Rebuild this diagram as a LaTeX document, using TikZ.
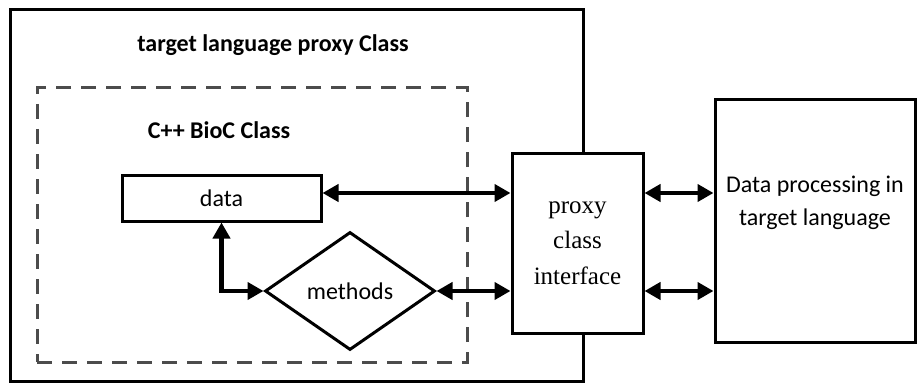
\documentclass[tikz,border=0pt]{standalone}
\usepackage{fontspec}
\setmainfont{Carlito}
\newfontfamily\ifacefont{Liberation Serif}
\usetikzlibrary{shapes.geometric,arrows.meta}

\tikzset{
  box/.style={draw, line width=3pt, inner sep=0pt},
  dashbox/.style={draw=black!70, line width=3pt, dash pattern=on 15pt off 10pt},
  link/.style={line width=4.5pt, {Triangle[length=16pt,width=17pt]}-{Triangle[length=16pt,width=17pt]}},
  lbl/.style={font=\fontsize{24}{33}\selectfont, align=center},
  ttl/.style={font=\fontsize{24}{28}\selectfont\bfseries},
}

\begin{document}
\begin{tikzpicture}[x=1pt,y=-1pt]
\useasboundingbox (0,0) rectangle (920,385);
% outer proxy class
\node[box, minimum width=573pt, minimum height=371pt] (outer) at (296.5,195.5) {};
\node[ttl] (outertitle) at (273,45) {target language proxy Class};
% wrapped C++ class
\node[dashbox, minimum width=430pt, minimum height=274pt] (inner) at (252,225) {};
\node[ttl] (innertitle) at (219,130) {C++ BioC Class};
\node[box, lbl, minimum width=199pt, minimum height=46pt] (data) at (221.5,198) {data};
\node[box, lbl, diamond, aspect=1.44, minimum width=170pt, minimum height=118pt] (methods) at (350,291) {methods};
% interface and target side
\node[box, fill=white, minimum width=131pt, minimum height=180pt, align=center,
      font=\ifacefont\fontsize{25}{35.5}\selectfont] (proxy) at (577.5,243) {proxy\\class\\interface};
\node[box, minimum width=200pt, minimum height=242pt] (dp) at (815,221) {};
\node[lbl] (dptext) at (815,203) {Data processing in\\target language};

\coordinate (tap) at ([yshift=5pt]data.east);
\draw[link] (tap) -- (tap -| proxy.west);
\draw[link] (data.south) |- (methods.west);
\draw[link] (methods.east) -- (methods.east -| proxy.west);
\draw[link] (proxy.east |- tap) -- (dp.west |- tap);
\draw[link] (proxy.east |- methods.east) -- (dp.west |- methods.east);
\end{tikzpicture}
\end{document}
